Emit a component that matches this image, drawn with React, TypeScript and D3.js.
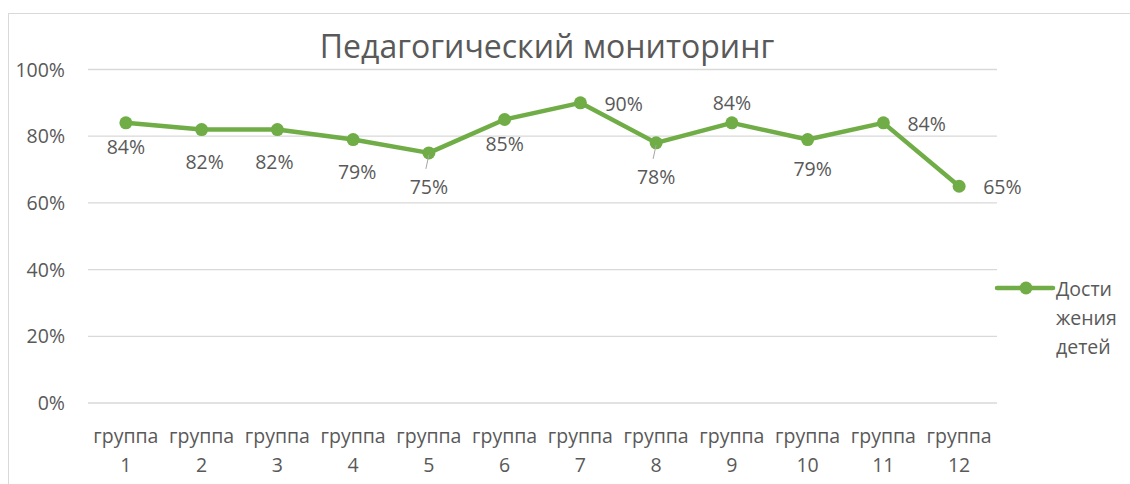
import React from 'react';
import * as d3 from 'd3';

const categories = ['группа 1', 'группа 2', 'группа 3', 'группа 4', 'группа 5', 'группа 6', 'группа 7', 'группа 8', 'группа 9', 'группа 10', 'группа 11', 'группа 12'];
const values = [0.84, 0.82, 0.82, 0.79, 0.75, 0.85, 0.9, 0.78, 0.84, 0.79, 0.84, 0.65];
// where Excel put each data label: b = below, r = right, a = above, bl = below with leader line
const labelPlacement = ['b', 'b', 'b', 'b', 'bl', 'b', 'r', 'bl', 'a', 'b', 'r', 'r'];
const yTicks = [0, 0.2, 0.4, 0.6, 0.8, 1];
const seriesName = ['Дости', 'жения', 'детей'];

const title = 'Педагогический мониторинг';
const green = '#70AD47';
const textColor = '#595959';
const font = "'Open Sans', 'Noto Sans', sans-serif";
const fs = 19.5;

export default function App() {
  const width = 1130;
  const height = 484;
  const plot = { left: 88, right: 997, top: 69.5, bottom: 403 };

  const x = d3.scalePoint<string>().domain(categories).range([plot.left, plot.right]).padding(0.5);
  const y = d3.scaleLinear().domain([0, 1]).range([plot.bottom, plot.top]);
  const line = d3.line<number>().x((_, i) => x(categories[i])!).y(d => y(d));
  const pct = d3.format('.0%');

  return (
    <div style={{ position: 'absolute', left: 0, top: 0 }}>
      <svg width={width} height={height} style={{ display: 'block', background: '#fff' }} fontFamily={font}>
        <rect x={8.5} y={13.5} width={1200} height={600} fill="#fff" stroke="#d9d9d9" strokeWidth={1} />
        <text x={547} y={58} textAnchor="middle" fontSize={32} fill={textColor}>{title}</text>

        {yTicks.map(t => (
          <g key={t}>
            <line x1={plot.left} x2={plot.right} y1={y(t)} y2={y(t)} stroke="#d9d9d9" strokeWidth={1.3} />
            <text x={65} y={y(t) + 7} textAnchor="end" fontSize={fs} fill={textColor}>{pct(t)}</text>
          </g>
        ))}

        {categories.map(c => {
          const [w, n] = c.split(' ');
          return (
            <g key={c} transform={`translate(${x(c)},0)`}>
              <text y={443} textAnchor="middle" fontSize={fs} fill={textColor}>{w}</text>
              <text y={472} textAnchor="middle" fontSize={fs} fill={textColor}>{n}</text>
            </g>
          );
        })}

        <path d={line(values)!} fill="none" stroke={green} strokeWidth={4.5} strokeLinejoin="round" />
        {values.map((v, i) => (
          <circle key={i} cx={x(categories[i])} cy={y(v)} r={6.5} fill={green} />
        ))}

        {values.map((v, i) => {
          const px = x(categories[i])!;
          const py = y(v);
          const p = labelPlacement[i];
          let lx = px, ly = py + 31, anchor: 'middle' | 'start' = 'middle';
          if (p === 'r') { lx = px + 24; ly = py + 8; anchor = 'start'; }
          if (p === 'a') { ly = py - 13; }
          if (p === 'bl') { ly = py + 41; }
          if (i === 1) { lx = px + 3; ly = py + 39; }
          if (i === 2) { lx = px - 3; ly = py + 39; }
          if (i === 3) { lx = px + 4; ly = py + 39; }
          if (i === 9) { lx = px + 5; ly = py + 36; }
          return (
            <g key={i}>
              {p === 'bl' && <line x1={px} y1={py + 2} x2={px - 3} y2={py + 16} stroke="#a6a6a6" strokeWidth={1} />}
              <text x={lx} y={ly} textAnchor={anchor} fontSize={fs} fill={textColor}>{pct(v)}</text>
            </g>
          );
        })}

        <line x1={997} x2={1053} y1={288} y2={288} stroke={green} strokeWidth={4.5} strokeLinecap="round" />
        <circle cx={1026} cy={288} r={6.5} fill={green} />
        {seriesName.map((s, i) => (
          <text key={s} x={1056} y={296 + i * 29} fontSize={fs} fill={textColor}>{s}</text>
        ))}
      </svg>
    </div>
  );
}
